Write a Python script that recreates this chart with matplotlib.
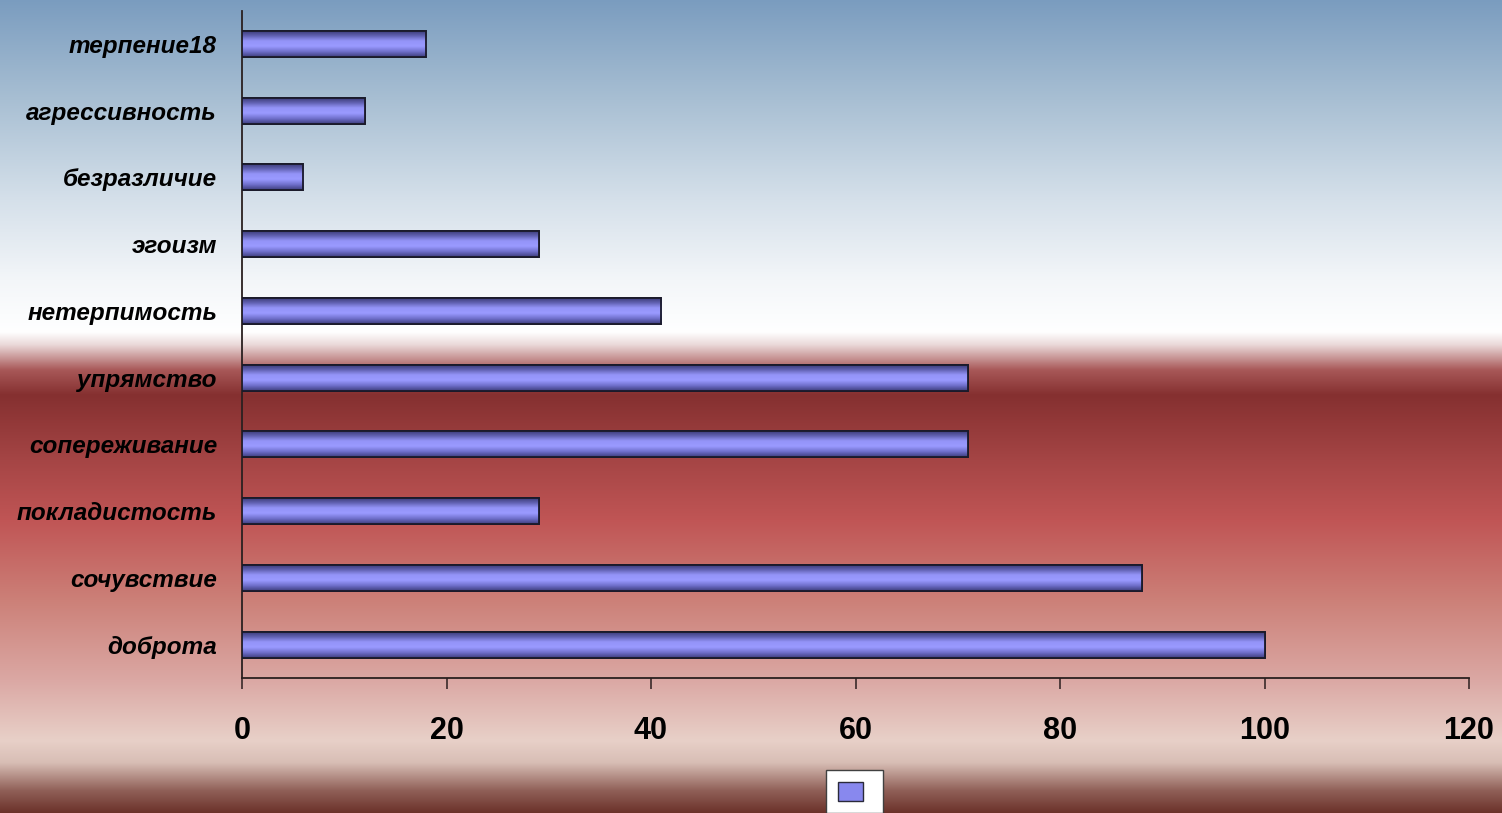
import matplotlib
matplotlib.use('Agg')
import matplotlib.pyplot as plt
import numpy as np
from matplotlib.colors import LinearSegmentedColormap, to_rgb
from matplotlib.patches import Patch

categories = ['доброта', 'сочувствие', 'покладистость', 'сопереживание', 'упрямство',
              'нетерпимость', 'эгоизм', 'безразличие', 'агрессивность', 'терпение18']
values = [100, 88, 29, 71, 71, 41, 29, 6, 12, 18]
xticks = [0, 20, 40, 60, 80, 100, 120]

plt.rcParams['font.family'] = ['Liberation Sans', 'DejaVu Sans']

W, H = 1502, 813
fig = plt.figure(figsize=(W / 100, H / 100), dpi=100)

# background gradient (pixel row -> colour)
stops = [(0, '#7a9cbf'), (100, '#a8bfd3'), (200, '#d5e0ea'), (280, '#f3f6f9'),
         (332, '#ffffff'), (345, '#ead8d8'), (370, '#a85858'), (395, '#853030'),
         (460, '#a54545'), (520, '#c05555'), (600, '#cc8078'), (680, '#dba8a4'),
         (740, '#e8d0c8'), (762, '#d8beb5'), (790, '#906058'), (813, '#6a3028')]
rows = np.arange(H)
ys = [s[0] for s in stops]
cols = np.array([to_rgb(s[1]) for s in stops])
grad = np.stack([np.interp(rows, ys, cols[:, k]) for k in range(3)], axis=1)
bg = fig.add_axes([0, 0, 1, 1], zorder=0)
bg.imshow(grad[:, None, :], aspect='auto', extent=[0, 1, 0, 1], origin='upper')
bg.axis('off')

ax = fig.add_axes([242 / W, 1 - 678 / H, (1469 - 242) / W, (678 - 10.6) / H], zorder=1)
ax.patch.set_alpha(0)

bars = ax.barh(range(len(categories)), values, height=0.39, color='#9090ff',
               edgecolor='#1a1a2a', linewidth=1.3, zorder=3)

bar_cmap = LinearSegmentedColormap.from_list(
    'bar', ['#3e3e7e', '#7070cc', '#9a9aff', '#9494f8', '#6060b0', '#36366e'])
shade = np.linspace(0, 1, 64)[:, None]
for b in bars:
    x0, y0, w, h = b.get_x(), b.get_y(), b.get_width(), b.get_height()
    im = ax.imshow(shade, cmap=bar_cmap, aspect='auto', extent=[x0, x0 + w, y0, y0 + h],
                   origin='lower', zorder=3.5)
    im.set_clip_path(b)
    # redraw edge on top
    ax.add_patch(plt.Rectangle((x0, y0), w, h, fill=False, edgecolor='#1a1a2a',
                               linewidth=1.3, zorder=4))

ax.set_xlim(0, 120)
ax.set_ylim(-0.5, len(categories) - 0.5)
ax.set_xticks(xticks)
ax.set_xticklabels([str(t) for t in xticks], fontsize=22, fontweight='bold')
ax.set_yticks(range(len(categories)))
ax.set_yticklabels(categories, fontsize=17.5, fontweight='bold', fontstyle='italic')
ax.tick_params(axis='y', length=0, pad=18)
ax.tick_params(axis='x', length=8, width=1.2, color='#3a2a2a', pad=19, direction='out')
for s in ['top', 'right']:
    ax.spines[s].set_visible(False)
for s in ['left', 'bottom']:
    ax.spines[s].set_color('#2a2020')
    ax.spines[s].set_linewidth(1.3)

handle = Patch(facecolor='#8888ee', edgecolor='#2a2a3a', linewidth=1)
leg = fig.legend([handle], [' '], loc='lower left', bbox_to_anchor=(818 / W, -8 / H),
                 frameon=True, fancybox=False, handlelength=1.5, handleheight=1.4,
                 handletextpad=0.2, borderpad=0.7, fontsize=12)
leg.get_frame().set_edgecolor('#404040')
leg.get_frame().set_facecolor('white')
leg.get_frame().set_alpha(1)
leg.set_zorder(5)

fig.savefig('out.png', dpi=100)
